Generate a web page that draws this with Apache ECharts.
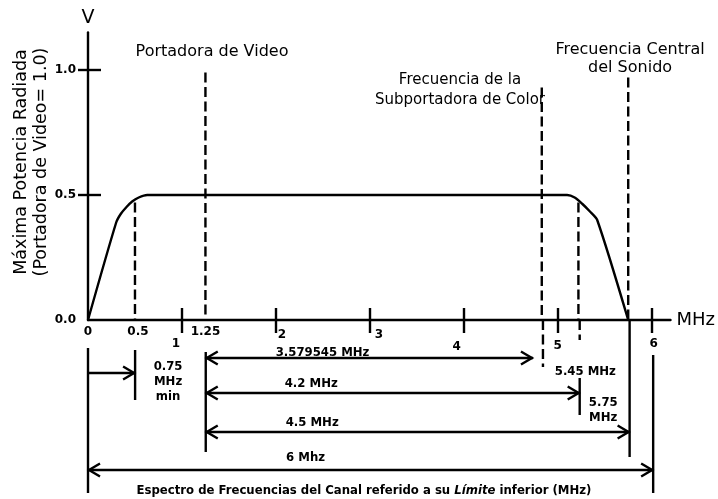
<!DOCTYPE html>
<html><head><meta charset="utf-8">
<script src="https://cdn.jsdelivr.net/npm/echarts@6/dist/echarts.min.js"></script>
<style>html,body{margin:0;padding:0;background:#fff}#c{width:718px;height:499px}</style>
</head><body><div id="c"></div>
<script>
// ---- data ----
const xTickValues = [1, 2, 3, 4, 5, 6];
const xLabelValues = [0, 0.5, 1, 1.25, 2, 3, 4, 5, 6];
const yTickValues = [0.5, 1];
const yLabelValues = [0, 0.5, 1];
// spectrum envelope (MHz, relative radiated power)
const spectrumX = [0, 0.30, 0.35, 0.41, 0.47, 0.54, 0.63, 5.10, 5.18, 5.26, 5.34, 5.42, 5.75];
const spectrumY = [0, 0.39, 0.425, 0.452, 0.474, 0.49, 0.5, 0.5, 0.49, 0.465, 0.435, 0.40, 0];
// dashed reference lines (frequency, top value)
const markerFreq = [0.5, 1.25, 4.83, 5.22, 5.75];
const markerTop = [0.47, 0.99, 0.93, 0.47, 0.97];
// captions above the spectrum
const topLabelText = ['Portadora de Video', 'Frecuencia de la\nSubportadora de Color', 'Frecuencia Central\ndel Sonido'];
const topLabelX = [1.32, 3.96, 5.77];
const topLabelY = [1.072, 0.92, 1.044];
// dimension arrows below the axis: from, to, row, left head, right head
const arrowFrom = [0, 1.25, 1.25, 1.25, 0];
const arrowTo = [0.5, 4.83, 5.22, 5.75, 6];
const arrowRow = [53, 38, 73, 112, 150];
const arrowHeadL = [0, 1, 1, 1, 1];
const arrowHeadR = [1, 1, 1, 1, 1];
const arrowGap = [0, 10, 0, 0, 0];
// solid bracket lines below the axis: freq, from row, to row
const bracketFreq = [0, 0.5, 1.25, 5.22, 5.75, 6];
const bracketFrom = [28, 30, 32, 58, 0, 35];
const bracketTo = [173, 80, 132, 95, 137, 173];
// dashed continuations below axis
const dashFreq = [4.83, 5.22];
const dashTo = [47, 20];
// dimension labels
const dimText = ['0.75\nMHz\nmin', '3.579545 MHz', '4.2 MHz', '4.5 MHz', '6 Mhz', '5.45 MHz', '5.75\nMHz',
  'Espectro de Frecuencias del Canal referido a su {i|Límite} inferior (MHz)'];
const dimX = [0.85, 2.49, 2.37, 2.38, 2.31, 5.28, 5.47, 2.93];
const dimY = [62, 33, 64, 103, 138, 52, 90, 171];

// ---- chart ----
const BLACK = '#000';
const LW = 2.4;
const condFont = '"DejaVu Sans Condensed", "Liberation Sans Narrow", "DejaVu Sans", sans-serif';
const mainFont = '"DejaVu Sans", Verdana, sans-serif';
const labelShift = {'0': [0, 0], '0.5': [3, 0], '1': [-6, 12], '1.25': [0, 0], '2': [6, 3], '3': [9, 3], '4': [-7, 15], '5': [0, 14], '6': [2, 12]};
const rich = {};
xLabelValues.forEach((v, i) => {
  const s = labelShift[String(v)] || [0, 0];
  const dx = s[0], dy = s[1];
  rich['s' + i] = {fontFamily: mainFont, fontWeight: 'bold', fontSize: 12, color: BLACK,
    padding: [dy, dx < 0 ? -2 * dx : 0, 0, dx > 0 ? 2 * dx : 0]};
});

const chart = echarts.init(document.getElementById('c'), null, {renderer: 'canvas'});
const GL = 88, GW = 584;
const lineStyle = {stroke: BLACK, lineWidth: LW};
const dashStyle = {stroke: BLACK, lineWidth: LW, lineDash: [10, 4.5]};

const series = [];
series.push({
  type: 'line', xAxisIndex: 0, yAxisIndex: 0, symbol: 'none', smooth: 0.25,
  data: spectrumX.map((x, i) => [x, spectrumY[i]]),
  lineStyle: {color: BLACK, width: LW}, z: 5, animation: false
});
series.push({
  type: 'custom', xAxisIndex: 0, yAxisIndex: 0, clip: false,
  data: markerFreq.map((f, i) => [f, markerTop[i]]),
  renderItem: (p, api) => {
    const a = api.coord([api.value(0), api.value(1)]);
    const b = api.coord([api.value(0), 0]);
    return {type: 'line', shape: {x1: a[0], y1: a[1], x2: b[0], y2: b[1]}, style: dashStyle};
  }, animation: false
});
series.push({
  type: 'custom', xAxisIndex: 0, yAxisIndex: 0, clip: false,
  data: topLabelX.map((x, i) => [x, topLabelY[i], i]),
  renderItem: (p, api) => {
    const a = api.coord([api.value(0), api.value(1)]);
    const i = api.value(2);
    return {type: 'text', x: a[0], y: a[1], style: {text: topLabelText[i], fill: BLACK,
      fontFamily: mainFont, fontSize: i === 1 ? 15 : 16, align: 'center', verticalAlign: 'middle', lineHeight: i === 1 ? 20 : 18}};
  }, animation: false
});
// lower annotation grid
series.push({
  type: 'custom', xAxisIndex: 2, yAxisIndex: 2, clip: false,
  encode: {x: [0, 1], y: 2},
  data: arrowFrom.map((f, i) => [f, arrowTo[i], arrowRow[i], arrowHeadL[i], arrowHeadR[i], arrowGap[i]]),
  renderItem: (p, api) => {
    const p1 = api.coord([api.value(0), api.value(2)]);
    const p2 = api.coord([api.value(1), api.value(2)]);
    const xa = p1[0], xb = p2[0] - api.value(5), y = p1[1];
    const ch = [{type: 'line', shape: {x1: xa, y1: y, x2: xb, y2: y}, style: lineStyle}];
    if (api.value(3)) ch.push({type: 'polyline', shape: {points: [[xa + 12, y - 6.5], [xa + 1, y], [xa + 12, y + 6.5]]}, style: {stroke: BLACK, lineWidth: LW, fill: null}});
    if (api.value(4)) ch.push({type: 'polyline', shape: {points: [[xb - 12, y - 6.5], [xb - 1, y], [xb - 12, y + 6.5]]}, style: {stroke: BLACK, lineWidth: LW, fill: null}});
    return {type: 'group', children: ch};
  }, animation: false
});
series.push({
  type: 'custom', xAxisIndex: 2, yAxisIndex: 2, clip: false,
  data: bracketFreq.map((f, i) => [f, bracketFrom[i], bracketTo[i]]),
  renderItem: (p, api) => {
    const a = api.coord([api.value(0), api.value(1)]);
    const b = api.coord([api.value(0), api.value(2)]);
    return {type: 'line', shape: {x1: a[0], y1: a[1], x2: b[0], y2: b[1]}, style: lineStyle};
  }, animation: false
});
series.push({
  type: 'custom', xAxisIndex: 2, yAxisIndex: 2, clip: false,
  data: dashFreq.map((f, i) => [f, 0, dashTo[i]]),
  renderItem: (p, api) => {
    const a = api.coord([api.value(0), api.value(1)]);
    const b = api.coord([api.value(0), api.value(2)]);
    return {type: 'line', shape: {x1: a[0], y1: a[1], x2: b[0], y2: b[1]}, style: dashStyle};
  }, animation: false
});
series.push({
  type: 'custom', xAxisIndex: 2, yAxisIndex: 2, clip: false,
  data: dimX.map((x, i) => [x, dimY[i], i]),
  renderItem: (p, api) => {
    const a = api.coord([api.value(0), api.value(1)]);
    const i = api.value(2);
    return {type: 'text', x: a[0], y: a[1], style: {text: dimText[i], fill: BLACK,
      fontFamily: condFont, fontWeight: 'bold', fontSize: 13, align: 'center', verticalAlign: 'middle',
      lineHeight: 15, rich: {i: {fontStyle: 'italic', fontFamily: condFont, fontWeight: 'bold', fontSize: 13}}}};
  }, animation: false
});

const option = {
  animation: false,
  backgroundColor: '#fff',
  grid: [
    {left: GL, width: GW, top: 32.5, height: 287.5},
    {left: GL, width: GW, top: 320, height: 179}
  ],
  xAxis: [
    {type: 'value', gridIndex: 0, min: 0, max: 6.2, position: 'bottom',
      name: 'MHz', nameLocation: 'end', nameGap: 6,
      nameTextStyle: {fontFamily: mainFont, fontSize: 18, color: BLACK, verticalAlign: 'middle'},
      axisLine: {show: true, onZero: false, lineStyle: {color: BLACK, width: LW}},
      axisTick: {show: true, length: 13, customValues: xTickValues, lineStyle: {color: BLACK, width: LW}},
      axisLabel: {show: true, customValues: xLabelValues, margin: 6,
        formatter: (v) => { const i = xLabelValues.indexOf(v); return '{s' + i + '|' + String(v) + '}'; },
        rich: rich},
      splitLine: {show: false}},
    {type: 'value', gridIndex: 0, min: 0, max: 6.2, position: 'bottom',
      axisLine: {show: false},
      axisTick: {show: true, inside: true, length: 12, customValues: xTickValues, lineStyle: {color: BLACK, width: LW}},
      axisLabel: {show: false}, splitLine: {show: false}},
    {type: 'value', gridIndex: 1, min: 0, max: 6.2, show: false}
  ],
  yAxis: [
    {type: 'value', gridIndex: 0, min: 0, max: 1.15, position: 'left',
      axisLine: {show: true, onZero: false, lineStyle: {color: BLACK, width: LW}},
      axisTick: {show: true, length: 10, customValues: yTickValues, lineStyle: {color: BLACK, width: LW}},
      axisLabel: {show: true, customValues: yLabelValues, margin: 12, formatter: (v) => v.toFixed(1),
        fontFamily: mainFont, fontWeight: 'bold', fontSize: 12, color: BLACK},
      splitLine: {show: false}},
    {type: 'value', gridIndex: 0, min: 0, max: 1.15, position: 'left',
      name: 'V', nameLocation: 'end', nameGap: 5,
      nameTextStyle: {fontFamily: mainFont, fontSize: 19, color: BLACK, align: 'center', verticalAlign: 'bottom'},
      axisLine: {show: false},
      axisTick: {show: true, inside: true, length: 13, customValues: yTickValues, lineStyle: {color: BLACK, width: LW}},
      axisLabel: {show: false}, splitLine: {show: false}},
    {type: 'value', gridIndex: 1, min: 0, max: 179, inverse: true, show: false}
  ],
  graphic: [{
    type: 'text', x: 31, y: 162, rotation: Math.PI / 2,
    style: {text: 'Máxima Potencia Radiada\n(Portadora de Video= 1.0)', fill: BLACK,
      fontFamily: mainFont, fontSize: 17.5, align: 'center', verticalAlign: 'middle', lineHeight: 20}
  }],
  series: series
};
chart.setOption(option);
</script></body></html>
